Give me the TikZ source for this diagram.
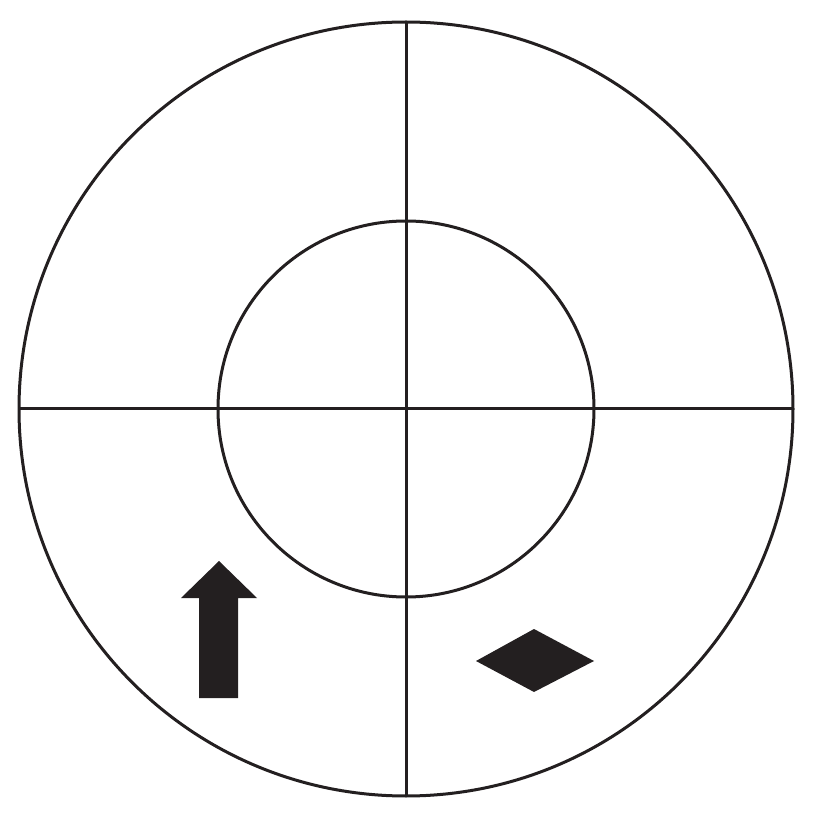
\documentclass[tikz,border=0pt]{standalone}
\definecolor{ink}{HTML}{231F20}
\begin{document}
\begin{tikzpicture}[x=1pt,y=-1pt,
  ring/.style={draw=ink,line width=3pt},
  axis/.style={draw=ink,line width=3pt},
  solid shape/.style={fill=ink,draw=none}]
\useasboundingbox (0,0) rectangle (823,818);
\coordinate (c) at (406,409);
\coordinate (t) at (406,22);
\coordinate (b) at (406,797);
\coordinate (l) at (19,409);
\coordinate (r) at (793,409);
\draw[ring] (c) circle[radius=387];
\draw[ring] (c) circle[radius=188];
\draw[axis] (t) -- (b);
\draw[axis] (l) -- (r);
\fill[solid shape] (219,561) -- (257,598) -- (238,598) -- (238,698) -- (199,698) -- (199,598) -- (181,598) -- cycle;
\fill[solid shape] (476,661) -- (534,629) -- (594,661) -- (534,692) -- cycle;
\end{tikzpicture}
\end{document}
